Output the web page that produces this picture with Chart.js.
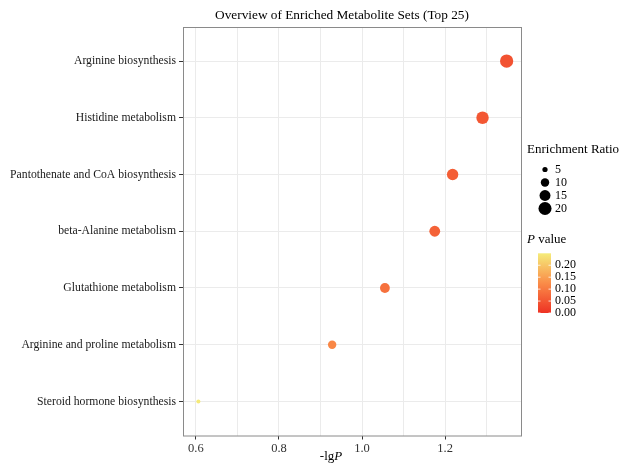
<!DOCTYPE html>
<html lang="en">
<head>
  <meta charset="UTF-8">
  <title>Overview of Enriched Metabolite Sets (Top 25)</title>
  <script src="https://cdn.jsdelivr.net/npm/chart.js"></script>
  <style>
    html, body { margin: 0; padding: 0; background: #ffffff; }
    #wrap { width: 621px; height: 470px; }
  </style>
</head>
<body>
  <div id="wrap"><canvas id="dotChart"></canvas></div>

  <script>
    const categories = [
      'Arginine biosynthesis',
      'Histidine metabolism',
      'Pantothenate and CoA biosynthesis',
      'beta-Alanine metabolism',
      'Glutathione metabolism',
      'Arginine and proline metabolism',
      'Steroid hormone biosynthesis'
    ];
    const negLogP = [1.348, 1.290, 1.218, 1.175, 1.055, 0.928, 0.606];
    const pValues = [0.0449, 0.0513, 0.0605, 0.0668, 0.0881, 0.118, 0.248];
    const enrichmentRatios = [20.4, 18.5, 16, 14.7, 12.6, 9.9, 3.6];
    const sizeBreaks = [5, 10, 15, 20];
    const pBreaks = [0.00, 0.05, 0.10, 0.15, 0.20];
    const pMax = 0.25;

    const FONT = '"Liberation Serif", "DejaVu Serif", serif';

    // red -> orange -> yellow, like the ggplot gradient
    const stops = [[238, 50, 36], [250, 140, 72], [245, 236, 122]];
    function pColor(p) {
      let t = Math.max(0, Math.min(1, p / pMax)) * 2;
      const i = t >= 1 ? 1 : 0;
      t = t - i;
      const a = stops[i], b = stops[i + 1];
      const c = a.map((v, k) => Math.round(v + (b[k] - v) * t));
      return `rgb(${c[0]},${c[1]},${c[2]})`;
    }
    // size scale is linear in sqrt(ratio)
    function ratioRadius(r) { return 1.75 * Math.sqrt(r) - 1.3; }

    const points = categories.map((c, i) => ({ x: negLogP[i], y: categories.length - i }));

    const extras = {
      id: 'extras',
      afterDraw(chart) {
        const { ctx, chartArea: a } = chart;
        ctx.save();
        // panel border
        ctx.strokeStyle = '#8a8a8a';
        ctx.lineWidth = 1;
        ctx.strokeRect(a.left + 0.5, a.top + 0.5, a.right - a.left - 1, a.bottom - a.top);

        ctx.fillStyle = '#000';
        ctx.textBaseline = 'middle';
        // title
        ctx.font = `13.3px ${FONT}`;
        ctx.textAlign = 'center';
        ctx.fillText('Overview of Enriched Metabolite Sets (Top 25)', 342, 15.5);

        // x axis title: -lgP (sits left of centre, as in the original)
        const t1 = '-lg';
        ctx.font = `13px ${FONT}`;
        const w1 = ctx.measureText(t1).width;
        ctx.font = `italic 13px ${FONT}`;
        const w2 = ctx.measureText('P').width;
        const sx = 331 - (w1 + w2) / 2;
        ctx.textAlign = 'left';
        ctx.font = `13px ${FONT}`;
        ctx.fillText(t1, sx, 457);
        ctx.font = `italic 13px ${FONT}`;
        ctx.fillText('P', sx + w1, 457);

        // size legend
        ctx.font = `13px ${FONT}`;
        ctx.fillText('Enrichment Ratio', 527, 150);
        const sizeY = [169.5, 182.5, 195.5, 208.5];
        sizeBreaks.forEach((v, i) => {
          ctx.fillStyle = '#000';
          ctx.beginPath();
          ctx.arc(545, sizeY[i], ratioRadius(v), 0, Math.PI * 2);
          ctx.fill();
          ctx.font = `12px ${FONT}`;
          ctx.fillText(String(v), 555, sizeY[i]);
        });

        // colour legend
        ctx.font = `italic 13px ${FONT}`;
        ctx.fillText('P', 527, 240);
        const pw = ctx.measureText('P').width;
        ctx.font = `13px ${FONT}`;
        ctx.fillText(' value', 527 + pw, 240);

        const bx = 538, bw = 13, bTop = 253.3, bBot = 313;
        const g = ctx.createLinearGradient(0, bBot, 0, bTop);
        g.addColorStop(0, pColor(0));
        g.addColorStop(0.5, pColor(pMax / 2));
        g.addColorStop(1, pColor(pMax));
        ctx.fillStyle = g;
        ctx.fillRect(bx, bTop, bw, bBot - bTop);
        ctx.font = `12px ${FONT}`;
        pBreaks.forEach(v => {
          const y = bBot - (v / pMax) * (bBot - bTop);
          ctx.strokeStyle = 'rgba(255,255,255,0.8)';
          ctx.beginPath();
          ctx.moveTo(bx, y); ctx.lineTo(bx + 2.5, y);
          ctx.moveTo(bx + bw - 2.5, y); ctx.lineTo(bx + bw, y);
          ctx.stroke();
          ctx.fillStyle = '#000';
          ctx.fillText(v.toFixed(2), 555, y);
        });
        ctx.restore();
      }
    };

    new Chart(document.getElementById('dotChart'), {
      type: 'scatter',
      data: {
        datasets: [{
          data: points,
          backgroundColor: ctx => pColor(pValues[ctx.dataIndex]),
          borderWidth: 0,
          pointRadius: ctx => ratioRadius(enrichmentRatios[ctx.dataIndex]),
          pointHoverRadius: ctx => ratioRadius(enrichmentRatios[ctx.dataIndex])
        }]
      },
      options: {
        responsive: true,
        maintainAspectRatio: false,
        animation: false,
        layout: { padding: { top: 27, right: 99, left: 0, bottom: 0 } },
        plugins: {
          legend: { display: false },
          tooltip: { enabled: false }
        },
        scales: {
          x: {
            type: 'linear',
            min: 0.569,
            max: 1.385,
            afterFit: s => { s.height = 34.5; },
            ticks: {
              stepSize: 0.1,
              includeBounds: false,
              autoSkip: false,
              maxRotation: 0,
              padding: 2,
              color: '#333',
              font: { family: FONT, size: 12.5 },
              callback: v => (Math.round(v * 10) % 2 === 0 ? v.toFixed(1) : '')
            },
            grid: {
              color: '#ebebeb',
              tickLength: 4,
              tickColor: c => (Math.round(c.tick.value * 10) % 2 === 0 ? '#333' : 'rgba(0,0,0,0)')
            },
            border: { display: false }
          },
          y: {
            type: 'linear',
            min: 0.4,
            max: 7.6,
            afterFit: s => { s.width = 183; },
            ticks: {
              stepSize: 1,
              includeBounds: false,
              autoSkip: false,
              padding: 3,
              color: '#1a1a1a',
              font: { family: FONT, size: 11.7 },
              callback: v => categories[categories.length - Math.round(v)] || ''
            },
            grid: {
              color: '#ebebeb',
              tickLength: 4,
              tickColor: '#333'
            },
            border: { display: false }
          }
        }
      },
      plugins: [extras]
    });
  </script>
</body>
</html>
